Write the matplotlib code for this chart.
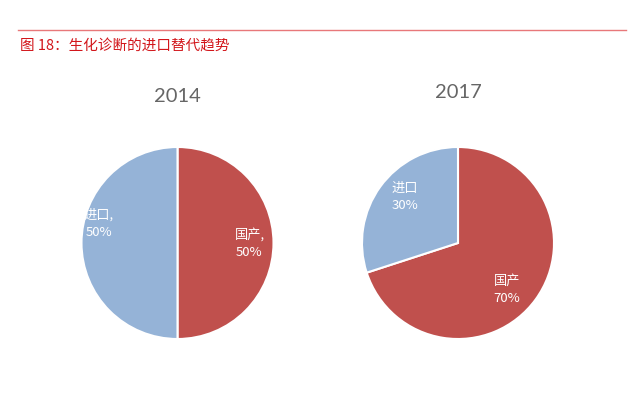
import matplotlib
matplotlib.use("Agg")
import matplotlib.pyplot as plt
from matplotlib.lines import Line2D

plt.rcParams['font.family'] = ['Lato', 'Noto Sans CJK SC', 'DejaVu Sans']

title_text = "图 18：生化诊断的进口替代趋势"
years = ["2014", "2017"]
categories = ["国产", "进口"]
values_2014 = [50, 50]
values_2017 = [70, 30]
labels_2014 = ["国产,\n50%", "进口,\n50%"]
labels_2017 = ["国产\n70%", "进口\n30%"]

colors = ["#C0504D", "#95B3D7"]

W, H = 640, 398
fig = plt.figure(figsize=(W / 100, H / 100), dpi=100)

# top rule and caption
fig.add_artist(Line2D([18 / W, 626 / W], [1 - 30 / H, 1 - 30 / H],
                      color="#E8787A", lw=1.0, transform=fig.transFigure))
fig.text(20 / W, 1 - 46 / H, title_text, color="#D2161B", fontsize=10.5,
         ha="left", va="center",
         family=['Noto Sans CJK SC', 'DejaVu Sans'])

def pie_axes(cx, cy, r):
    ax = fig.add_axes([(cx - r) / W, (H - cy - r) / H, 2 * r / W, 2 * r / H])
    ax.set_xlim(-1, 1)
    ax.set_ylim(-1, 1)
    ax.axis("off")
    return ax

specs = [
    (177.5, 243, 96, values_2014, labels_2014, 97, [(0.75, 0.0), (-0.82, 0.20)]),
    (458, 243, 96, values_2017, labels_2017, 92, [(0.51, -0.49), (-0.55, 0.48)]),
]

for (cx, cy, r, vals, labs, ty, overrides), year in zip(specs, years):
    ax = pie_axes(cx, cy, r)
    wedges, texts = ax.pie(vals, labels=labs, colors=colors, startangle=90,
                           counterclock=False, radius=1.0, labeldistance=0.74,
                           wedgeprops=dict(edgecolor="white", linewidth=1.5),
                           textprops=dict(color="white", fontsize=9.5,
                                          ha="center", va="center",
                                          linespacing=1.45,
                                          family=['Noto Sans CJK SC', 'DejaVu Sans']))
    for t, ov in zip(texts, overrides):
        if ov is not None:
            t.set_position(ov)
    ax.set_xlim(-1, 1)
    ax.set_ylim(-1, 1)
    fig.text(cx / W, 1 - ty / H, year, color="#666666", fontsize=14.5,
             ha="center", va="center")

fig.savefig("out.png", dpi=100, facecolor="white")
